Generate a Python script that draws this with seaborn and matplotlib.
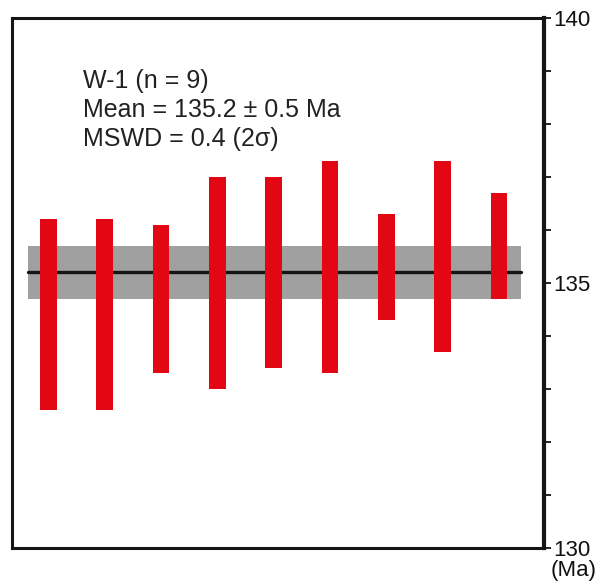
import matplotlib
matplotlib.use("Agg")
import matplotlib.pyplot as plt
import seaborn as sns
import numpy as np
import pandas as pd

# ---- data ----
spots = [1, 2, 3, 4, 5, 6, 7, 8, 9]
ages = [134.4, 134.4, 134.7, 135.0, 135.2, 135.3, 135.3, 135.5, 135.7]
errors_2s = [1.8, 1.8, 1.4, 2.0, 1.8, 2.0, 1.0, 1.8, 1.0]
mean_age = 135.2
mean_err = 0.5
ytick_major = [130, 135, 140]
annot_lines = ["W-1 (n = 9)", "Mean = 135.2 ± 0.5 Ma", "MSWD = 0.4 (2σ)"]

df = pd.DataFrame({"spot": spots, "age": ages, "err": errors_2s})
df["low"] = df["age"] - df["err"]
df["span"] = 2 * df["err"]

sns.set_style("white")
plt.rcParams["font.family"] = ["Liberation Sans", "DejaVu Sans"]

fig = plt.figure(figsize=(6.01, 5.84), dpi=100)
ax = fig.add_axes([12 / 601, 1 - 548 / 584, (544 - 12) / 601, (548 - 18) / 584])

# mean band and line
ax.fill_between([0.645, 9.385], mean_age - mean_err, mean_age + mean_err,
                color="#a0a0a0", linewidth=0, zorder=1)
ax.plot([0.645, 9.385], [mean_age, mean_age], color="#151515", lw=2.4, zorder=2)

# error bars (boxes)
ax.bar(df["spot"], df["span"], bottom=df["low"], width=0.297,
       color="#e30613", linewidth=0, zorder=3)

ax.set_xlim(0.355, 9.80)
ax.set_ylim(130, 140)
ax.set_xticks([])

ax.yaxis.tick_right()
ax.set_yticks(np.arange(130, 141, 1))
ax.set_yticklabels([str(v) if v in ytick_major else "" for v in range(130, 141)])
ax.tick_params(axis="y", which="major", direction="out", length=5, width=1.3,
               pad=2, labelsize=16, colors="#111111", labelcolor="#111111")

for side in ["left", "top", "bottom"]:
    ax.spines[side].set_visible(True)
    ax.spines[side].set_linewidth(2.2)
    ax.spines[side].set_color("#151515")
ax.spines["right"].set_visible(True)
ax.spines["right"].set_linewidth(3.0)
ax.spines["right"].set_color("#151515")

ax.text(1.012, -0.022, "(Ma)", transform=ax.transAxes, ha="left", va="top",
        fontsize=16, color="#111111")

for i, line in enumerate(annot_lines):
    ax.text(0.134, 0.881 - i * 0.055, line, transform=ax.transAxes,
            ha="left", va="center", fontsize=18, color="#222222")

fig.savefig("out.png", dpi=100)
